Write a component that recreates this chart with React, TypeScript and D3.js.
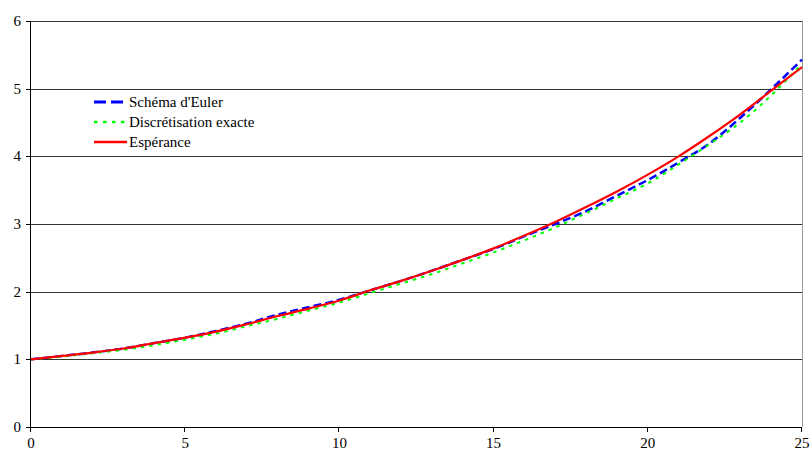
import React from "react";
import * as d3 from "d3";

const times = [0,1,2,3,4,5,6,7,8,9,10,11,12,13,14,15,16,17,18,19,20,21,22,23,24,25];
const euler = [1.00,1.05,1.10,1.16,1.24,1.32,1.42,1.53,1.66,1.77,1.88,2.02,2.16,2.31,2.47,2.63,2.82,3.00,3.19,3.42,3.65,3.91,4.19,4.57,4.99,5.43];
const exacte = [1.00,1.04,1.09,1.14,1.21,1.29,1.38,1.49,1.60,1.72,1.84,1.98,2.12,2.26,2.42,2.58,2.76,2.95,3.16,3.38,3.60,3.88,4.18,4.50,4.90,5.37];
const esperance = [1.00,1.05,1.10,1.16,1.24,1.32,1.41,1.52,1.64,1.75,1.87,2.02,2.16,2.31,2.47,2.64,2.83,3.03,3.25,3.48,3.73,4.00,4.30,4.62,4.97,5.32];
const xTicks = [0,5,10,15,20,25];
const yTicks = [0,1,2,3,4,5,6];
const seriesNames = ["Schéma d'Euler", "Discrétisation exacte", "Espérance"];

export default function App() {
  const x = d3.scaleLinear().domain([0, 25]).range([31, 802]);
  const y = d3.scaleLinear().domain([0, 6]).range([427, 21]);
  const line = (vals: number[]) =>
    d3.line<number>().x((_, i) => x(times[i])).y((d) => y(d)).curve(d3.curveMonotoneX)(vals) || "";

  const styles = [
    { color: "#0000ff", width: 2.5, dash: "8,4" },
    { color: "#00ff00", width: 2, dash: "3.5,5" },
    { color: "#ff0000", width: 2.2, dash: undefined as string | undefined },
  ];
  const data = [euler, exacte, esperance];
  const textStyle = { fontFamily: "Liberation Serif, Times New Roman, DejaVu Serif, serif", fontSize: "15px" };

  return (
    <svg width={812} height={454} style={{ position: "absolute", left: 0, top: 0, display: "block", background: "#fff" }}>
      {yTicks.filter((t) => t > 0).map((t) => (
        <line key={"g" + t} x1={x(0)} x2={x(25)} y1={Math.round(y(t)) + 0.5} y2={Math.round(y(t)) + 0.5} stroke="#333" strokeWidth={1} />
      ))}
      <line x1={x(25) + 0.5} x2={x(25) + 0.5} y1={y(6)} y2={y(0)} stroke="#999" strokeWidth={1} />
      <line x1={x(0) - 0.5} x2={x(0) - 0.5} y1={y(6)} y2={y(0) + 0.5} stroke="#000" strokeWidth={1} />
      <line x1={x(0) - 0.5} x2={x(25)} y1={y(0) + 0.5} y2={y(0) + 0.5} stroke="#000" strokeWidth={1} />
      {yTicks.map((t) => (
        <g key={"yt" + t}>
          <line x1={x(0) - 5} x2={x(0)} y1={Math.round(y(t)) + 0.5} y2={Math.round(y(t)) + 0.5} stroke="#000" />
          <text x={21} y={y(t) + 5} textAnchor="end" style={textStyle} fill="#000">{t}</text>
        </g>
      ))}
      {xTicks.map((t) => (
        <g key={"xt" + t}>
          <line x1={Math.round(x(t)) - 0.5} x2={Math.round(x(t)) - 0.5} y1={y(0)} y2={y(0) + 5} stroke="#000" />
          <text x={x(t)} y={448} textAnchor="middle" style={textStyle} fill="#000">{t}</text>
        </g>
      ))}
      {data.map((vals, i) => (
        <path key={"s" + i} d={line(vals)} fill="none" stroke={styles[i].color} strokeWidth={styles[i].width} strokeDasharray={styles[i].dash} />
      ))}
      {seriesNames.map((name, i) => (
        <g key={"l" + i} transform={`translate(0, ${102 + i * 20})`}>
          <line x1={94} x2={127} y1={0} y2={0} stroke={styles[i].color} strokeWidth={styles[i].width + 0.5} strokeDasharray={styles[i].dash ? (i === 0 ? "12,5" : "3.5,5.5") : undefined} />
          <text x={129} y={5} style={textStyle} fill="#000">{name}</text>
        </g>
      ))}
    </svg>
  );
}
